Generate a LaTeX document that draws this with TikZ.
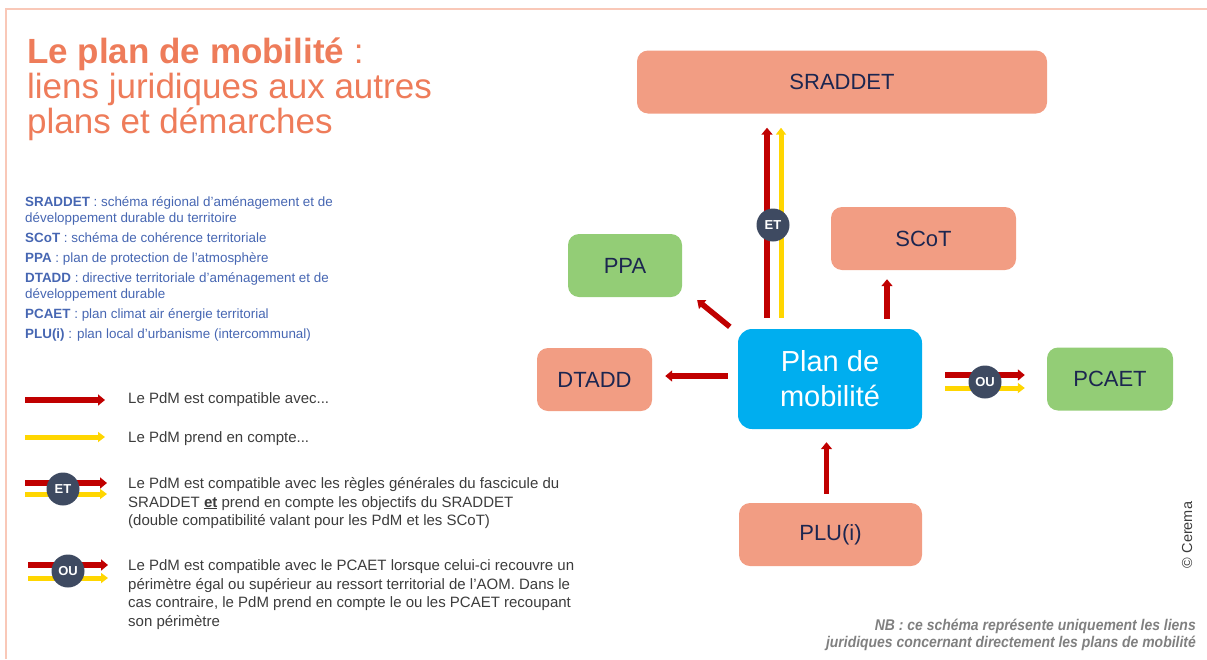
\documentclass[tikz,border=0pt]{standalone}
\usepackage{fontspec}
\setmainfont{Liberation Sans}
\newfontfamily\narrowfont[FakeStretch=0.9]{Liberation Sans}
\usepackage{tikz}
\usetikzlibrary{arrows.meta, positioning, calc}

\definecolor{titlecoral}{RGB}{238,124,90}
\definecolor{defblue}{RGB}{70,102,178}
\definecolor{boxsalmon}{RGB}{242,157,131}
\definecolor{boxgreen}{RGB}{147,205,118}
\definecolor{boxblue}{RGB}{0,174,239}
\definecolor{boxnavy}{RGB}{28,38,80}
\definecolor{linkred}{RGB}{192,0,0}
\definecolor{linkyellow}{RGB}{255,214,0}
\definecolor{badgegray}{RGB}{62,74,97}
\definecolor{legtext}{RGB}{60,60,60}
\definecolor{framepeach}{RGB}{249,200,184}
\definecolor{notegray}{RGB}{128,128,128}

\tikzset{
    plan/.style={rounded corners=11pt, minimum width=#1, minimum height=63pt, inner sep=0pt,
        text=boxnavy, font=\fontsize{22}{26}\selectfont},
    salmonbox/.style={plan=#1, fill=boxsalmon},
    greenbox/.style={plan=#1, fill=boxgreen},
    pdmbox/.style={rounded corners=14pt, minimum width=184pt, minimum height=100pt, inner sep=0pt,
        fill=boxblue, text=white, align=center, font=\fontsize{29}{35}\selectfont},
    compat/.style={linkred, line width=5.5pt, -{Triangle[length=7pt,width=11pt]}},
    account/.style={linkyellow, line width=5pt, -{Triangle[length=7pt,width=10pt]}},
    badge/.style={circle, fill=badgegray, text=white, minimum size=33pt, inner sep=0pt,
        font=\bfseries\fontsize{13}{13}\selectfont},
    legend/.style={anchor=base west, inner sep=0pt, align=left, text=legtext,
        font=\fontsize{15}{18.6}\selectfont}
}

\begin{document}
\begin{tikzpicture}[x=1pt, y=-1pt]
\useasboundingbox (0,0) rectangle (1207,659);

% Frame
\draw[framepeach, line width=2pt] (6,659) -- (6,9) -- (1207,9);

% Title (base = last line)
\node[anchor=base west, inner sep=0pt, align=left, text=titlecoral,
      font=\fontsize{35}{35}\selectfont] (title) at (27,133)
    {\textbf{Le plan de mobilité} :\\liens juridiques aux autres\\plans et démarches};

% Abbreviations
\node[anchor=base west, inner sep=0pt, align=left, text=defblue,
      font=\fontsize{13.4}{16}\selectfont] (defs) at (25,338)
    {\textbf{SRADDET} : schéma régional d’aménagement et de\\
     développement durable du territoire\\[4pt]
     \textbf{SCoT} : schéma de cohérence territoriale\\[4pt]
     \textbf{PPA} : plan de protection de l’atmosphère\\[4pt]
     \textbf{DTADD} : directive territoriale d’aménagement et de\\
     développement durable\\[4pt]
     \textbf{PCAET} : plan climat air énergie territorial\\[4pt]
     \textbf{PLU(i)} : plan local d’urbanisme (intercommunal)};

% Legend
\node[legend] (leg1) at (128,403.5) {Le PdM est compatible avec...};
\node[legend] (leg2) at (128,442.5) {Le PdM prend en compte...};
\node[legend] (leg3) at (128,525.7)
    {Le PdM est compatible avec les règles générales du fascicule du\\
     SRADDET \textbf{\underline{et}} prend en compte les objectifs du SRADDET\\
     (double compatibilité valant pour les PdM et les SCoT)};
\node[legend] (leg4) at (128,626.3)
    {Le PdM est compatible avec le PCAET lorsque celui-ci recouvre un\\
     périmètre égal ou supérieur au ressort territorial de l’AOM. Dans le\\
     cas contraire, le PdM prend en compte le ou les PCAET recoupant\\
     son périmètre};

\draw[compat] ([xshift=-103pt, yshift=3.5pt]leg1.base west) -- ([xshift=-23pt, yshift=3.5pt]leg1.base west);
\draw[account] ([xshift=-103pt, yshift=5.5pt]leg2.base west) -- ([xshift=-23pt, yshift=5.5pt]leg2.base west);
\draw[compat] ([xshift=-103pt, yshift=42.7pt]leg3.base west) -- ([xshift=-21pt, yshift=42.7pt]leg3.base west);
\draw[account] ([xshift=-103pt, yshift=31.7pt]leg3.base west) -- ([xshift=-21pt, yshift=31.7pt]leg3.base west);
\node[badge] (etleg) at ([xshift=-65pt, yshift=36.7pt]leg3.base west) {ET};
\draw[compat] ([xshift=-100pt, yshift=61.3pt]leg4.base west) -- ([xshift=-20pt, yshift=61.3pt]leg4.base west);
\draw[account] ([xshift=-100pt, yshift=48.3pt]leg4.base west) -- ([xshift=-20pt, yshift=48.3pt]leg4.base west);
\node[badge] (ouleg) at ([xshift=-60pt, yshift=55.3pt]leg4.base west) {OU};

% Plans
\node[salmonbox=410pt] (sraddet) at (842,82) {SRADDET};
\node[greenbox=114pt] (ppa) at (625,265.5) {PPA};
\node[salmonbox=185pt] (scot) at (923.5,238.5) {SCoT};
\node[salmonbox=115pt] (dtadd) at (594.5,379.5) {DTADD};
\node[pdmbox] (pdm) at (830,379) {Plan de\\mobilité};
\node[greenbox=126pt] (pcaet) at (1110,379) {PCAET};
\node[salmonbox=183pt] (plu) at (830.5,534.5) {PLU(i)};

% Links
\draw[compat, shorten <=11pt, shorten >=14pt] ([xshift=-63pt]pdm.north) -- ([xshift=-63pt]pdm.north |- sraddet.south);
\draw[account, shorten <=11pt, shorten >=14pt] ([xshift=-49pt]pdm.north) -- ([xshift=-49pt]pdm.north |- sraddet.south);
\node[badge] (et) at (773,225) {ET};
\draw[compat] ([xshift=-8pt, yshift=2pt]pdm.north west) -- ([xshift=15pt, yshift=-3pt]ppa.south east);
\draw[compat, shorten <=10pt, shorten >=9pt] ([xshift=57pt]pdm.north) -- ([xshift=57pt]pdm.north |- scot.south);
\draw[compat, shorten <=10pt, shorten >=13pt] ([yshift=3pt]pdm.west) -- ([yshift=3pt]pdm.west -| dtadd.east);
\draw[compat, shorten <=23pt, shorten >=22pt] ([yshift=4pt]pdm.east) -- ([yshift=4pt]pdm.east -| pcaet.west);
\draw[account, shorten <=23pt, shorten >=22pt] ([yshift=-9pt]pdm.east) -- ([yshift=-9pt]pdm.east -| pcaet.west);
\node[badge] (ou) at (985,382) {OU};
\draw[compat, shorten <=9pt, shorten >=13pt] ([xshift=-4pt]plu.north) -- ([xshift=-4pt]plu.north |- pdm.south);

% Notes (base = last line)
\node[anchor=base east, inner sep=0pt, align=right, text=notegray,
      font=\narrowfont\bfseries\itshape\fontsize{15.5}{17}\selectfont] (note) at (1196,647)
    {NB : ce schéma représente uniquement les liens\\juridiques concernant directement les plans de mobilité};
\node[rotate=90, inner sep=0pt, text=legtext, font=\fontsize{14.5}{15}\selectfont] (cerema) at (1187,535) {© Cerema};
\end{tikzpicture}
\end{document}
